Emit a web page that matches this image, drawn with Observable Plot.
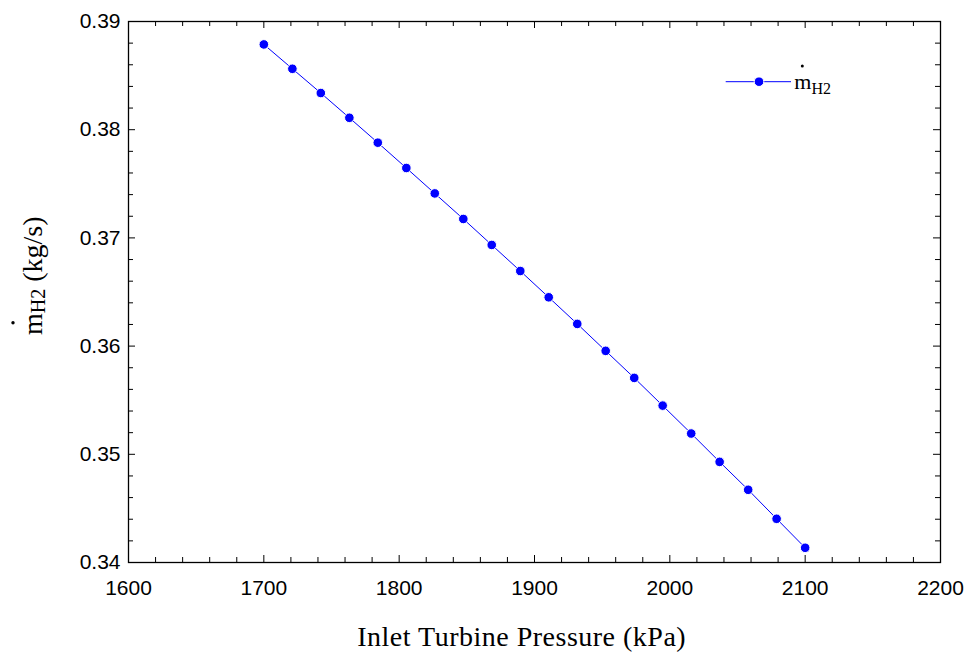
<!DOCTYPE html>
<html>
<head>
<meta charset="utf-8">
<script src="https://cdn.jsdelivr.net/npm/d3@7"></script>
<script src="https://cdn.jsdelivr.net/npm/@observablehq/plot@0.6"></script>
<style>
  html, body { margin: 0; padding: 0; background: #fff; }
  #chart svg { display: block; }
</style>
</head>
<body>
<div id="chart"></div>
<script>
// Data
const pressure = [1700, 1721.1, 1742.1, 1763.2, 1784.2, 1805.3, 1826.3, 1847.4, 1868.4, 1889.5,
                  1910.5, 1931.6, 1952.6, 1973.7, 1994.7, 2015.8, 2036.8, 2057.9, 2078.9, 2100];
const massFlowH2 = [0.38788, 0.38563, 0.38339, 0.38110, 0.37880, 0.37646, 0.37411, 0.37175, 0.36935, 0.36694,
                    0.36451, 0.36205, 0.35956, 0.35706, 0.35450, 0.35192, 0.34930, 0.34672, 0.34404, 0.34136];
const xMajorTicks = [1600, 1700, 1800, 1900, 2000, 2100, 2200];
const xMinorTicks = [1620, 1640, 1660, 1680, 1720, 1740, 1760, 1780, 1820, 1840, 1860, 1880,
                     1920, 1940, 1960, 1980, 2020, 2040, 2060, 2080, 2120, 2140, 2160, 2180];
const yMajorTicks = [0.34, 0.35, 0.36, 0.37, 0.38, 0.39];
const yMinorTicks = [0.342, 0.344, 0.346, 0.348, 0.352, 0.354, 0.356, 0.358, 0.362, 0.364, 0.366, 0.368,
                     0.372, 0.374, 0.376, 0.378, 0.382, 0.384, 0.386, 0.388];
const xTitle = "Inlet Turbine Pressure (kPa)";
const yTitleMain = "m", yTitleSub = "H2", yTitleUnit = " (kg/s)";
const legendLabel = "m", legendSub = "H2";

const data = pressure.map((p, i) => ({p, m: massFlowH2[i]}));

const W = 973, H = 655, mL = 128, mR = 33, mT = 21, mB = 93;
const innerW = W - mL - mR, innerH = H - mT - mB;
const blue = "#0000ff";
const majorLen = 7, minorLen = 5;

const plot = Plot.plot({
  width: W, height: H,
  marginLeft: mL, marginRight: mR, marginTop: mT, marginBottom: mB,
  style: {fontFamily: "'Liberation Sans', Arial, sans-serif", fontSize: "20px", background: "#fff", color: "#000"},
  x: {domain: [1600, 2200]},
  y: {domain: [0.34, 0.39]},
  marks: [
    // inward ticks, bottom & top
    Plot.tickX(xMajorTicks, {x: d => d, insetTop: innerH - majorLen, stroke: "black", strokeWidth: 1}),
    Plot.tickX(xMinorTicks, {x: d => d, insetTop: innerH - minorLen, stroke: "black", strokeWidth: 1}),
    Plot.tickX(xMajorTicks, {x: d => d, insetBottom: innerH - majorLen, stroke: "black", strokeWidth: 1}),
    Plot.tickX(xMinorTicks, {x: d => d, insetBottom: innerH - minorLen, stroke: "black", strokeWidth: 1}),
    // inward ticks, left & right
    Plot.tickY(yMajorTicks, {y: d => d, insetRight: innerW - majorLen, stroke: "black", strokeWidth: 1}),
    Plot.tickY(yMinorTicks, {y: d => d, insetRight: innerW - minorLen, stroke: "black", strokeWidth: 1}),
    Plot.tickY(yMajorTicks, {y: d => d, insetLeft: innerW - majorLen, stroke: "black", strokeWidth: 1}),
    Plot.tickY(yMinorTicks, {y: d => d, insetLeft: innerW - minorLen, stroke: "black", strokeWidth: 1}),
    Plot.frame({stroke: "black", strokeWidth: 1.3}),
    Plot.axisX({ticks: xMajorTicks, tickSize: 0, tickPadding: 18, tickFormat: d => String(d), fontSize: 21, label: null}),
    Plot.axisY({ticks: yMajorTicks, tickSize: 0, tickPadding: 8, tickFormat: d => d.toFixed(2), fontSize: 21, label: null}),
    Plot.line(data, {x: "p", y: "m", stroke: blue, strokeWidth: 1}),
    Plot.dot(data, {x: "p", y: "m", r: 4.8, fill: blue, stroke: "white", strokeWidth: 1})
  ]
});

document.getElementById("chart").appendChild(plot);

const svg = d3.select(plot);
const serif = "'Liberation Serif', 'Times New Roman', serif";

// X axis title
svg.append("text")
  .attr("x", 521.7).attr("y", 646)
  .attr("text-anchor", "middle")
  .attr("font-family", serif).attr("font-size", 28)
  .attr("letter-spacing", 0.5)
  .attr("fill", "black")
  .text(xTitle);

// Y axis title (rotated) with subscript and dot accent
const yt = svg.append("text")
  .attr("transform", "translate(41.7,335) rotate(-90)")
  .attr("text-anchor", "start")
  .attr("font-family", serif).attr("font-size", 28)
  .attr("fill", "black");
yt.append("tspan").text(yTitleMain);
yt.append("tspan").attr("font-size", 20).attr("dy", 3.3).text(yTitleSub);
yt.append("tspan").attr("dy", -3.3).text(yTitleUnit);
svg.append("circle").attr("cx", 13).attr("cy", 322.7).attr("r", 1.7).attr("fill", "black");

// Legend
const lg = svg.append("g");
lg.append("line").attr("x1", 725.7).attr("x2", 791).attr("y1", 81.7).attr("y2", 81.7)
  .attr("stroke", blue).attr("stroke-width", 1);
lg.append("circle").attr("cx", 759).attr("cy", 81.7).attr("r", 4.8)
  .attr("fill", blue).attr("stroke", "white").attr("stroke-width", 1);
const lt = lg.append("text")
  .attr("x", 794.3).attr("y", 89.3)
  .attr("text-anchor", "start")
  .attr("font-family", serif).attr("font-size", 22).attr("fill", "black");
lt.append("tspan").text(legendLabel);
lt.append("tspan").attr("font-size", 16).attr("dy", 4.7).text(legendSub);
lg.append("circle").attr("cx", 802.3).attr("cy", 66).attr("r", 1.5).attr("fill", "black");
</script>
</body>
</html>
